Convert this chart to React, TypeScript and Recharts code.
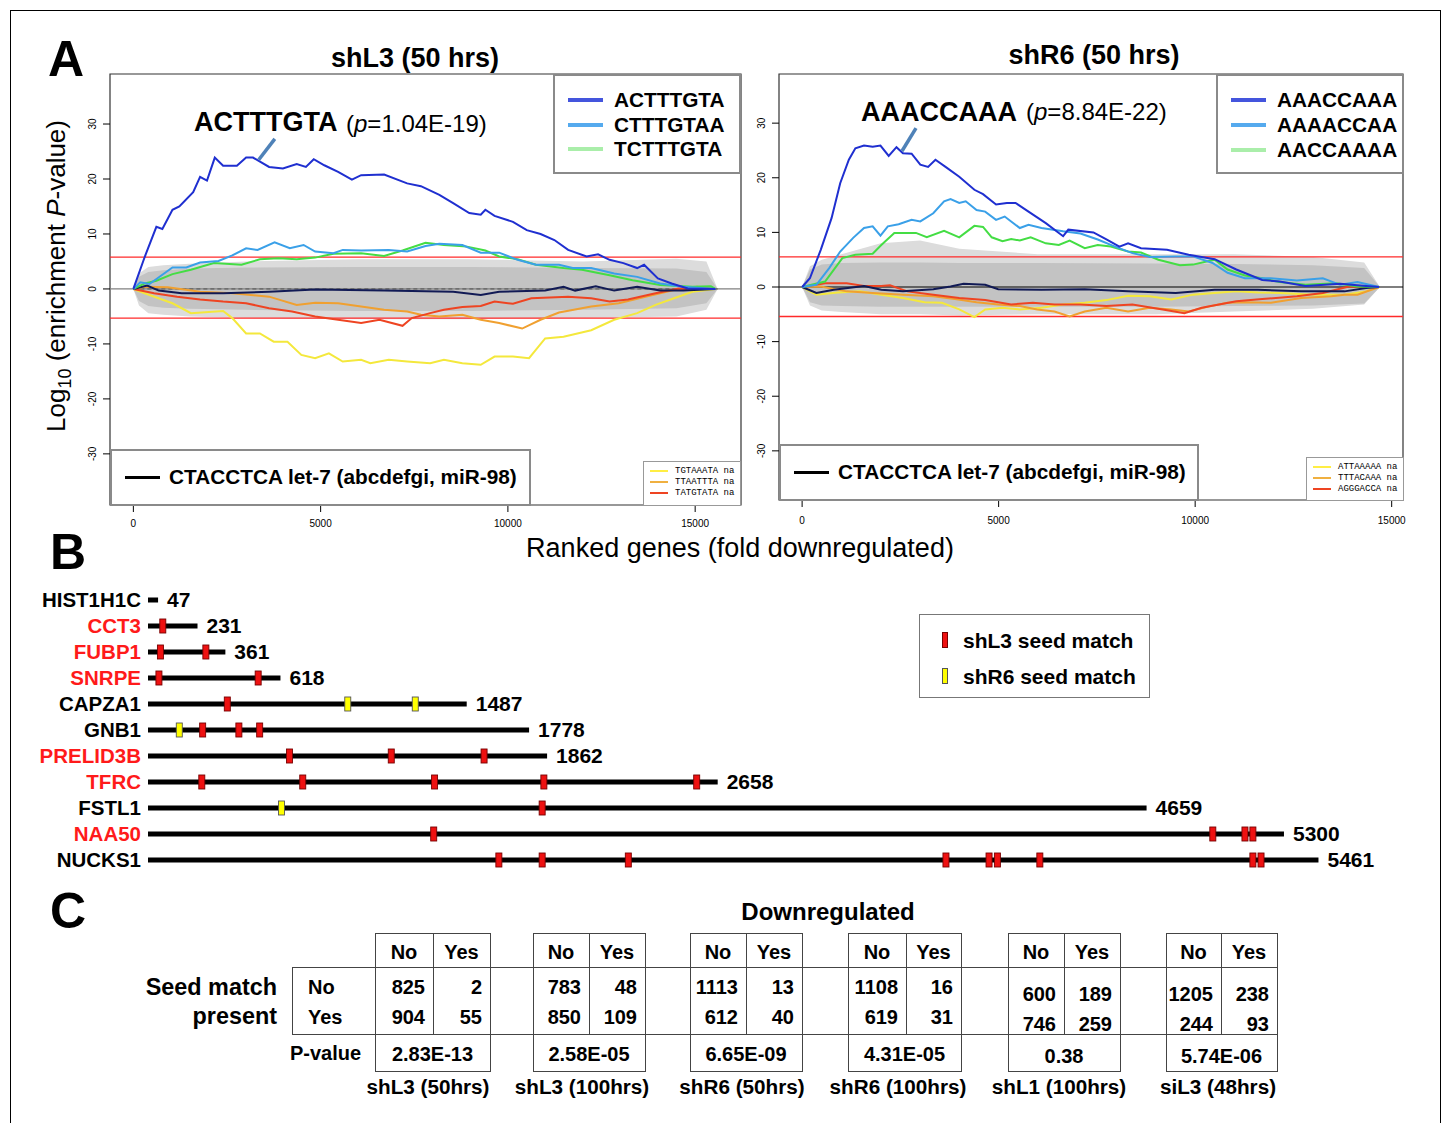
import React from 'react';
import {
  ComposedChart,
  Line,
  Area,
  XAxis,
  YAxis,
  ReferenceLine,
  ReferenceArea,
  ScatterChart,
  Scatter,
} from 'recharts';

const FONT = "'Liberation Sans', Arial, Helvetica, sans-serif";
const MONO = "'Liberation Mono', 'Courier New', monospace";

type P = [number, number];
const pts = (a: P[]) => a.map(([x, y]) => ({ x, y }));

// ---------- Panel A, shL3 (50 hrs) ----------
const shL3_ACTTTGTA: P[] = [[0,0],[307,5.9],[614,11.3],[774,10.9],[1044,14.4],[1228,15],[1597,17.6],[1781,20.4],[1966,19.7],[2174,23.9],[2396,22.4],[2764,22.4],[3010,23.9],[3194,23.9],[3624,22.2],[3993,21.9],[4361,22.7],[4607,22.2],[4816,23.6],[5098,22.5],[5467,21.3],[5835,19.9],[6081,20.7],[6695,20.8],[7310,19.2],[7678,18.7],[8170,17.1],[8538,15.6],[8968,13.8],[9275,13.5],[9398,14.4],[9644,13.3],[10135,12.2],[10504,10.7],[10872,10],[11241,8.9],[11609,7.1],[12101,5.9],[12408,6.3],[12715,5.3],[13084,4.7],[13452,3.8],[13636,4.4],[14005,1.9],[14373,1],[14803,0.1],[15540,0]];
const shL3_CTTTGTAA: P[] = [[0,0],[184,1.2],[430,0.9],[737,2.4],[1044,3.9],[1413,3.9],[1781,4.8],[2273,5.1],[2641,6.1],[3010,7.4],[3317,7.1],[3771,8.5],[4177,7.4],[4545,8],[4853,6.8],[5344,6.5],[5590,7.1],[6081,7],[6818,7.1],[7310,6.8],[7801,7.8],[8170,8.2],[8784,8],[9275,6.6],[9767,6.6],[10258,5.3],[10749,4.4],[11364,4.4],[11732,3.8],[12224,3.8],[12838,2.8],[13452,2.2],[14066,1],[14680,0.4],[15540,0]];
const shL3_TCTTTGTA: P[] = [[0,0],[307,1],[614,1.5],[1044,2.7],[1536,3.5],[2150,4.7],[2887,4.4],[3378,5.4],[3870,5.6],[4361,5.4],[4853,5.7],[5344,6.4],[6081,6.5],[6695,6],[7187,7],[7801,8.4],[8292,8],[8907,7.7],[9398,7],[9767,5.9],[10258,5.4],[10749,4.4],[11486,3.8],[11978,3.5],[12715,2.5],[13329,1.6],[14066,0.7],[14926,0.4],[15418,0.5],[15540,0]];
const shL3_TGTAAATA: P[] = [[0,0],[430,-1.1],[1044,-2.6],[1536,-4.4],[2396,-4],[2641,-5.3],[3010,-8.1],[3378,-8.1],[3747,-9.6],[4115,-9.6],[4484,-12],[4853,-12.6],[5221,-11.7],[5590,-13.2],[6081,-12.9],[6327,-13.5],[6818,-12.9],[7310,-13.2],[7924,-13.5],[8292,-12.9],[8784,-13.5],[9275,-13.8],[9644,-12.3],[10135,-12.3],[10565,-12.6],[10995,-9],[11486,-8.7],[12224,-7.5],[12838,-5.6],[13452,-4.4],[13943,-2.9],[14435,-1.7],[14926,-0.5],[15540,0]];
const shL3_TTAATTTA: P[] = [[0,0],[307,0.4],[921,0.3],[1781,-0.5],[2641,-0.8],[3624,-1.4],[4361,-2.9],[4853,-2.5],[5467,-2.6],[6081,-3.2],[6695,-3.8],[7310,-4.1],[7678,-4.7],[8170,-5],[8784,-4.7],[9275,-5.6],[9767,-6.2],[10381,-7.2],[10872,-5.6],[11364,-4.3],[12224,-3.2],[12961,-2.6],[13698,-1.4],[14435,-0.2],[15049,0.4],[15540,0]];
const shL3_TATGTATA: P[] = [[0,0],[553,-0.8],[1167,-1.4],[1781,-1.9],[2396,-2.3],[3010,-2.6],[3624,-3.5],[4238,-4.1],[4853,-5],[5467,-5.6],[6081,-6.2],[6572,-5.6],[7187,-6.7],[7433,-5.3],[7924,-4.4],[8292,-3.8],[8784,-3.3],[9275,-3.1],[9644,-2.3],[10135,-2.7],[10627,-1.7],[11609,-1.4],[12224,-1.7],[12715,-2.3],[13206,-1.9],[13943,-0.8],[14557,0.1],[15540,0]];
const shL3_let7: P[] = [[0,0],[369,0.6],[676,-0.3],[1290,-0.8],[2396,-0.8],[3624,-0.5],[4853,-0.1],[6695,-0.3],[8538,-0.5],[9275,-1.1],[9767,-0.5],[10995,-0.3],[11486,0.4],[11794,-0.3],[12347,0.5],[12838,-0.3],[13452,0.4],[14066,-0.3],[14680,-0.3],[15540,0]];
const shL3_bgX = [0, 150, 400, 800, 1500, 3000, 6000, 9000, 12000, 14500, 15300, 15600];
const shL3_bgInnerLo = [0, -2.2, -3.1, -3.4, -3.6, -3.8, -4, -4, -3.8, -3.5, -2.6, 0];
const shL3_bgInnerHi = [0, 2.2, 3.1, 3.4, 3.7, 3.9, 4, 4, 3.8, 3.7, 3.1, 0];
const shL3_bgOuterLo = [0, -3, -4.4, -4.7, -5, -5.3, -5.5, -5.5, -5.3, -5, -3.8, 0];
const shL3_bgOuterHi = [0, 2.8, 4, 4.3, 4.6, 5, 5.4, 5.4, 5, 5.5, 5, 0];

// ---------- Panel A, shR6 (50 hrs) ----------
const shR6_AAACCAAA: P[] = [[0,0],[198,1.6],[474,6.8],[749,12.6],[969,19],[1189,23.3],[1355,25.4],[1575,25.9],[1795,25.7],[1993,25.9],[2203,24],[2401,25.6],[2566,24.5],[2786,24.4],[3007,22.4],[3205,22],[3392,23.3],[3667,21.9],[3998,20.2],[4383,17.8],[4603,17],[4934,15.1],[5209,15.4],[5429,15.4],[5760,13.8],[6200,11.7],[6641,9.3],[6773,10.5],[7412,10],[7742,8.7],[8073,7.4],[8293,8],[8623,7.1],[9284,6.8],[9835,5.9],[10496,5.1],[11046,3.2],[11707,1.3],[12148,1],[12808,0.2],[13689,0.6],[14350,0.2],[14680,0]];
const shR6_AAAACCAA: P[] = [[0,0],[363,0.4],[694,3.5],[969,6.5],[1299,9],[1575,10.8],[1795,11.1],[1993,9.4],[2181,11.1],[2456,11.5],[2786,12.3],[3007,12],[3337,13.5],[3612,15.7],[3777,16.1],[3998,15.4],[4163,15.7],[4438,14.1],[4658,13.8],[4934,12.3],[5154,12.9],[5539,10.8],[5760,11.4],[6090,10.8],[6641,10.2],[7081,9.8],[7522,8.7],[7962,7.4],[8403,6.2],[8843,5.5],[9504,5.6],[9945,5.6],[10441,4.4],[10826,2.6],[11266,1.6],[11927,1.6],[12588,1.2],[13249,1.6],[13689,0.4],[14130,0.9],[14680,0]];
const shR6_AACCAAAA: P[] = [[0,0],[584,1],[1024,5.3],[1355,5.9],[1795,6.1],[2015,7.7],[2346,9.9],[2897,9.9],[3172,9.1],[3612,10.3],[3998,9.1],[4383,11.2],[4603,11],[4824,9.1],[5099,8.4],[5319,8.8],[5539,8.5],[5815,9.1],[6200,8],[6531,7.7],[6806,8.5],[7191,7.1],[7522,7.7],[7852,7.4],[8293,6.5],[8623,6.3],[9064,5],[9614,4],[9945,4.1],[10496,5],[10826,3.2],[11266,2.1],[11707,1.6],[12148,0.9],[12808,0.4],[13579,0.7],[14130,0.1],[14680,0]];
const shR6_ATTAAAAA: P[] = [[0,0],[363,-1.4],[914,-1],[1465,-0.8],[2015,-1.4],[2566,-2],[3117,-2.8],[3557,-2.9],[3998,-4.1],[4383,-5.5],[4658,-4.1],[5099,-3.8],[5539,-4.1],[6090,-3.8],[6641,-3.2],[7191,-2.9],[7742,-2.4],[8293,-1.6],[8843,-1.7],[9394,-2.3],[9945,-1.4],[10496,-1.1],[11046,-0.8],[11597,-1],[12148,-1.1],[13029,-1.4],[13800,-1.4],[14350,-0.8],[14680,0]];
const shR6_TTTACAAA: P[] = [[0,0],[474,0.1],[1134,-0.8],[1795,-1.1],[2566,-1.4],[3337,-1.7],[3888,-2.2],[4438,-2.8],[4989,-3.2],[5539,-3.5],[5980,-4.1],[6420,-4.5],[6806,-5.4],[7191,-4.5],[7742,-3.8],[8293,-4.5],[8843,-3.8],[9394,-4.1],[9835,-4.5],[10386,-3.5],[10826,-2.9],[11266,-2.8],[11927,-2.9],[12698,-2],[13469,-1.7],[13800,-1.4],[14130,-1.4],[14680,0]];
const shR6_AGGGACCA: P[] = [[0,0],[584,0.7],[1134,0.7],[1575,0.2],[2015,0.2],[2236,0.3],[2676,-0.8],[3337,-1.4],[3998,-2],[4658,-2.4],[5319,-3.2],[5870,-2.9],[6420,-3.2],[7081,-3.2],[7742,-3.5],[8403,-3.2],[9174,-4.1],[9725,-4.8],[10165,-3.8],[10606,-3.2],[11046,-2.6],[11707,-2.2],[12588,-1.7],[13249,-1.1],[13910,0.1],[14680,0]];
const shR6_let7: P[] = [[0,0],[363,-1.1],[804,-0.5],[1575,0.2],[2015,-0.5],[2566,-0.8],[3337,-0.4],[3777,0.1],[4108,0.6],[4658,0.4],[4989,-0.4],[6090,-0.5],[7191,-0.4],[8293,-0.8],[9504,-1.1],[10496,-0.5],[11597,-0.5],[12698,-0.8],[13800,-0.8],[14350,-0.2],[14680,0]];
const shR6_bgX = [0, 200, 500, 1000, 2000, 3000, 4000, 6000, 9000, 11000, 13000, 14300, 14700];
const shR6_bgInnerLo = [0, -2.8, -3.4, -3.5, -3.6, -3.6, -3.6, -3.6, -3.6, -3.5, -3.4, -3, 0];
const shR6_bgInnerHi = [0, 3.2, 4.1, 4.4, 4.5, 4.5, 4.4, 4.4, 4.3, 4.2, 4, 3.5, 0];
const shR6_bgOuterLo = [0, -3.4, -4.3, -4.6, -5, -5, -5.2, -5, -5, -4.5, -4, -3.2, 0];
const shR6_bgOuterHi = [0, 3.8, 5, 6, 8, 8.5, 7, 6, 6, 6, 5.5, 4.5, 0];

const bandData = (xs: number[], ilo: number[], ihi: number[], olo: number[], ohi: number[]) =>
  xs.map((x, i) => ({ x, inner: [ilo[i], ihi[i]], outer: [olo[i], ohi[i]] }));

const xTicks = [0, 5000, 10000, 15000];
const yTicks = [-30, -20, -10, 0, 10, 20, 30];

// ---------- Panel B ----------
const genes = ['HIST1H1C', 'CCT3', 'FUBP1', 'SNRPE', 'CAPZA1', 'GNB1', 'PRELID3B', 'TFRC', 'FSTL1', 'NAA50', 'NUCKS1'];
const geneLengths = [47, 231, 361, 618, 1487, 1778, 1862, 2658, 4659, 5300, 5461];
const geneIsRed = [false, true, true, true, false, false, true, true, false, true, false];
const shL3Sites: number[][] = [[], [69], [58, 270], [51, 514], [370], [255, 424, 521], [660, 1135, 1568], [251, 722, 1337, 1847, 2560], [1839], [1333, 4968, 5118, 5155], [1637, 1839, 2241, 3723, 3924, 3963, 4161, 5155, 5193]];
const shR6Sites: number[][] = [[], [], [], [], [932, 1247], [146], [], [], [623], [], []];

// ---------- Panel C ----------
const tableNames = ['shL3 (50hrs)', 'shL3 (100hrs)', 'shR6 (50hrs)', 'shR6 (100hrs)', 'shL1 (100hrs)', 'siL3 (48hrs)'];
const seedNoDownNo = [825, 783, 1113, 1108, 600, 1205];
const seedNoDownYes = [2, 48, 13, 16, 189, 238];
const seedYesDownNo = [904, 850, 612, 619, 746, 244];
const seedYesDownYes = [55, 109, 40, 31, 259, 93];
const pValues = ['2.83E-13', '2.58E-05', '6.65E-09', '4.31E-05', '0.38', '5.74E-06'];

// ---------- helpers ----------
type TxtProps = { x: number; y: number; size: number; bold?: boolean; color?: string; anchor?: 'start' | 'middle' | 'end'; family?: string; children: React.ReactNode; style?: React.CSSProperties };
const Txt = ({ x, y, size, bold, color = '#000', anchor = 'start', family = FONT, children, style }: TxtProps) => {
  const transform = anchor === 'middle' ? 'translateX(-50%)' : anchor === 'end' ? 'translateX(-100%)' : undefined;
  return (
    <div style={{ position: 'absolute', left: x, top: y - size / 2, fontSize: size, lineHeight: `${size}px`, fontWeight: bold ? 700 : 400, color, fontFamily: family, whiteSpace: 'nowrap', transform, ...style }}>
      {children}
    </div>
  );
};

const Box = ({ l, t, w, h, border = '2px solid #8a8a8a', children }: { l: number; t: number; w: number; h: number; border?: string; children?: React.ReactNode }) => (
  <div style={{ position: 'absolute', left: l, top: t, width: w, height: h, boxSizing: 'border-box', border, background: '#fff' }}>{children}</div>
);

const Seg = ({ l, t, w, h, c }: { l: number; t: number; w: number; h: number; c: string }) => (
  <div style={{ position: 'absolute', left: l, top: t, width: w, height: h, background: c }} />
);

const YTick = (props: any) => {
  const { x, y, payload } = props;
  const tx = x - 5;
  return (
    <text x={tx} y={y} transform={`rotate(-90 ${tx} ${y})`} textAnchor="middle" fontSize={10} fontFamily={FONT} fill="#000">
      {payload.value}
    </text>
  );
};

type Series = { data: P[]; color: string; width?: number };

type EnrichProps = {
  left: number; top: number; width: number; height: number;
  xDom: [number, number]; yDom: [number, number];
  band: any[]; series: Series[]; redHi: number; redLo: number;
  zeroColor: string; dashedEnd?: number; pointer: [P, P]; tickGap: number;
};

const Enrich = ({ left, top, width, height, xDom, yDom, band, series, redHi, redLo, zeroColor, dashedEnd, pointer, tickGap }: EnrichProps) => (
  <div style={{ position: 'absolute', left, top }}>
    <ComposedChart width={width} height={height} data={band} margin={{ top: 14, right: 19, left: 0, bottom: 0 }}>
      <XAxis dataKey="x" type="number" domain={xDom} ticks={xTicks} interval={0} allowDataOverflow height={30} tickSize={7} tickMargin={tickGap} axisLine={false} tickLine={{ stroke: '#000' }} tick={{ fontSize: 10, fill: '#000', fontFamily: FONT }} />
      <YAxis type="number" domain={yDom} ticks={yTicks} interval={0} allowDataOverflow width={50} tickSize={7} tickMargin={2} axisLine={false} tickLine={{ stroke: '#000' }} tick={<YTick />} />
      <Area dataKey="outer" type="linear" stroke="none" fill="#dcdcdc" fillOpacity={1} isAnimationActive={false} dot={false} activeDot={false} />
      <Area dataKey="inner" type="linear" stroke="none" fill="#c3c3c3" fillOpacity={1} isAnimationActive={false} dot={false} activeDot={false} />
      <ReferenceLine y={0} stroke={zeroColor} strokeWidth={1.2} />
      {dashedEnd ? (
        <Line data={pts([[0, 0], [dashedEnd, 0]])} dataKey="y" stroke="#555" strokeDasharray="4 3" strokeWidth={1} dot={false} isAnimationActive={false} />
      ) : null}
      <ReferenceLine y={redHi} stroke="#ff2a2a" strokeWidth={1.3} />
      <ReferenceLine y={redLo} stroke="#ff2a2a" strokeWidth={1.3} />
      {series.map((s, i) => (
        <Line key={i} data={pts(s.data)} dataKey="y" type="linear" stroke={s.color} strokeWidth={s.width ?? 2} dot={false} activeDot={false} isAnimationActive={false} />
      ))}
      <ReferenceLine segment={[{ x: pointer[0][0], y: pointer[0][1] }, { x: pointer[1][0], y: pointer[1][1] }]} stroke="#4f82b8" strokeWidth={3.5} />
      <ReferenceArea x1={xDom[0]} x2={xDom[1]} y1={yDom[0]} y2={yDom[1]} fill="none" stroke="#333" strokeWidth={1.2} ifOverflow="visible" />
    </ComposedChart>
  </div>
);

const LegendLine = ({ x, y, w, c, h = 4 }: { x: number; y: number; w: number; c: string; h?: number }) => (
  <div style={{ position: 'absolute', left: x, top: y - h / 2, width: w, height: h, background: c }} />
);

// Panel B marker shapes
const SiteShape = (color: string, stroke: string) => (props: any) => {
  const { cx, cy } = props;
  return <rect x={cx - 3} y={cy - 7} width={6} height={14} fill={color} stroke={stroke} strokeWidth={0.9} />;
};
const LenLabel = (props: any) => {
  const { cx, cy, payload } = props;
  return (
    <text x={cx + 9} y={cy + 7} fontSize={21} fontWeight={700} fontFamily={FONT} fill="#000">
      {payload.len}
    </text>
  );
};
const GeneTick = (props: any) => {
  const { y, payload } = props;
  const i = payload.value as number;
  return (
    <text x={141} y={y + 7} textAnchor="end" fontSize={20.5} fontWeight={700} fontFamily={FONT} fill={geneIsRed[i] ? '#ff1a1a' : '#000'}>
      {genes[i]}
    </text>
  );
};

const tblLeft = [375, 533, 690, 848, 1008, 1166];
const tblMid = [433, 589, 746, 906, 1064, 1221];
const tblRight = [490, 645, 802, 961, 1120, 1277];
const rowShift = [0, 0, 0, 0, 7, 7];
const nameCenter = [428, 582, 742, 898, 1059, 1218];

export default function App() {
  const band3 = bandData(shL3_bgX, shL3_bgInnerLo, shL3_bgInnerHi, shL3_bgOuterLo, shL3_bgOuterHi);
  const band6 = bandData(shR6_bgX, shR6_bgInnerLo, shR6_bgInnerHi, shR6_bgOuterLo, shR6_bgOuterHi);

  const series3: Series[] = [
    { data: shL3_TGTAAATA, color: '#f4e83c' },
    { data: shL3_TTAATTTA, color: '#f0a030' },
    { data: shL3_TATGTATA, color: '#ee4422' },
    { data: shL3_let7, color: '#111a55' },
    { data: shL3_TCTTTGTA, color: '#44dd44' },
    { data: shL3_CTTTGTAA, color: '#3aa0e8' },
    { data: shL3_ACTTTGTA, color: '#1f2fd0' },
  ];
  const series6: Series[] = [
    { data: shR6_ATTAAAAA, color: '#f4e83c' },
    { data: shR6_TTTACAAA, color: '#f0a030' },
    { data: shR6_AGGGACCA, color: '#ee4422' },
    { data: shR6_let7, color: '#111a55' },
    { data: shR6_AACCAAAA, color: '#44dd44' },
    { data: shR6_AAAACCAA, color: '#3aa0e8' },
    { data: shR6_AAACCAAA, color: '#1f2fd0' },
  ];

  const barsIdx = genes.map((_, i) => i);
  const l3Pts = shL3Sites.flatMap((arr, i) => arr.map((x) => ({ x, y: i })));
  const r6Pts = shR6Sites.flatMap((arr, i) => arr.map((x) => ({ x, y: i })));
  const endPts = geneLengths.map((len, i) => ({ x: len, y: i, len }));

  const lineC = '#444';

  return (
    <div style={{ position: 'absolute', left: 0, top: 0, width: 1447, height: 1123, overflow: 'hidden', background: '#fff', fontFamily: FONT }}>
      {/* figure frame */}
      <div style={{ position: 'absolute', left: 10, top: 10, width: 1431, height: 1140, boxSizing: 'border-box', border: '1.5px solid #000' }} />

      {/* ---------- Panel A ---------- */}
      <Txt x={48} y={59} size={50} bold>A</Txt>
      <Txt x={415} y={58} size={27} bold anchor="middle">shL3 (50 hrs)</Txt>
      <Txt x={1094} y={55} size={27} bold anchor="middle">shR6 (50 hrs)</Txt>

      <Enrich left={60} top={60} width={700} height={475} xDom={[-624, 16224]} yDom={[-39.3, 39.1]} band={band3} series={series3} redHi={5.8} redLo={-5.3} zeroColor="#808080" dashedEnd={15600} pointer={[[3777, 27.3], [3348, 23.5]]} tickGap={8} />
      <Enrich left={729} top={60} width={693} height={470} xDom={[-588, 15288]} yDom={[-39, 39]} band={band6} series={series6} redHi={5.5} redLo={-5.4} zeroColor="#000" pointer={[[2898, 29.1], [2542, 24.9]]} tickGap={10} />

      {/* y axis title */}
      <div style={{ position: 'absolute', left: 60, top: 276, transform: 'translate(-50%, -50%) rotate(-90deg)', fontSize: 26, lineHeight: '30px', whiteSpace: 'nowrap', fontFamily: FONT }}>
        Log<span style={{ fontSize: 18, verticalAlign: -6 }}>10</span> (enrichment <i>P</i>-value)
      </div>
      <Txt x={740} y={548} size={27} anchor="middle">Ranked genes (fold downregulated)</Txt>

      {/* annotations */}
      <Txt x={194} y={122} size={27} bold>ACTTTGTA</Txt>
      <Txt x={346} y={124} size={24}>(<i>p</i>=1.04E-19)</Txt>
      <Txt x={861} y={112} size={27} bold>AAACCAAA</Txt>
      <Txt x={1026} y={112} size={24}>(<i>p</i>=8.84E-22)</Txt>

      {/* legends left */}
      <Box l={553} t={74} w={188} h={100} />
      <LegendLine x={568} y={100} w={35} c="#4455dd" />
      <LegendLine x={568} y={125} w={35} c="#55aaee" />
      <LegendLine x={568} y={149} w={35} c="#aaeeaa" />
      <Txt x={614} y={100} size={20.8} bold>ACTTTGTA</Txt>
      <Txt x={614} y={125} size={20.8} bold>CTTTGTAA</Txt>
      <Txt x={614} y={149} size={20.8} bold>TCTTTGTA</Txt>

      <Box l={110} t={449} w={421} h={57} />
      <LegendLine x={125} y={477} w={35} c="#000" h={3} />
      <Txt x={169} y={477} size={20.8} bold>CTACCTCA let-7 (abcdefgi, miR-98)</Txt>

      <Box l={643} t={461} w={98} h={45} border="1px solid #999" />
      <LegendLine x={650} y={471} w={18} c="#ffee44" h={1.5} />
      <LegendLine x={650} y={482} w={18} c="#f0b040" h={1.5} />
      <LegendLine x={650} y={493} w={18} c="#ee4422" h={1.5} />
      <Txt x={675} y={471} size={9} family={MONO}>TGTAAATA na</Txt>
      <Txt x={675} y={482} size={9} family={MONO}>TTAATTTA na</Txt>
      <Txt x={675} y={493} size={9} family={MONO}>TATGTATA na</Txt>

      {/* legends right */}
      <Box l={1216} t={74} w={188} h={100} />
      <LegendLine x={1231} y={100} w={35} c="#4455dd" />
      <LegendLine x={1231} y={125} w={35} c="#55aaee" />
      <LegendLine x={1231} y={150} w={35} c="#aaeeaa" />
      <Txt x={1277} y={100} size={20.8} bold>AAACCAAA</Txt>
      <Txt x={1277} y={125} size={20.8} bold>AAAACCAA</Txt>
      <Txt x={1277} y={150} size={20.8} bold>AACCAAAA</Txt>

      <Box l={779} t={444} w={420} h={57} />
      <LegendLine x={794} y={472} w={35} c="#000" h={3} />
      <Txt x={838} y={472} size={20.8} bold>CTACCTCA let-7 (abcdefgi, miR-98)</Txt>

      <Box l={1306} t={457} w={98} h={44} border="1px solid #999" />
      <LegendLine x={1313} y={467} w={18} c="#ffee44" h={1.5} />
      <LegendLine x={1313} y={478} w={18} c="#f0b040" h={1.5} />
      <LegendLine x={1313} y={489} w={18} c="#ee4422" h={1.5} />
      <Txt x={1338} y={467} size={9} family={MONO}>ATTAAAAA na</Txt>
      <Txt x={1338} y={478} size={9} family={MONO}>TTTACAAA na</Txt>
      <Txt x={1338} y={489} size={9} family={MONO}>AGGGACCA na</Txt>

      {/* ---------- Panel B ---------- */}
      <Txt x={50} y={552} size={50} bold>B</Txt>
      <div style={{ position: 'absolute', left: 0, top: 580 }}>
        <ScatterChart width={1447} height={293} margin={{ top: 7, right: 13, left: 0, bottom: 0 }}>
          <XAxis type="number" dataKey="x" domain={[0, 6000]} allowDataOverflow hide />
          <YAxis type="number" dataKey="y" domain={[-0.5, 10.5]} reversed ticks={barsIdx} interval={0} width={148} axisLine={false} tickLine={false} tick={<GeneTick />} />
          {barsIdx.map((i) => (
            <ReferenceLine key={i} segment={[{ x: 0, y: i }, { x: geneLengths[i], y: i }]} stroke="#000" strokeWidth={5} />
          ))}
          <Scatter data={endPts} shape={LenLabel} isAnimationActive={false} />
          <Scatter data={l3Pts} shape={SiteShape('#ee1111', '#700')} isAnimationActive={false} />
          <Scatter data={r6Pts} shape={SiteShape('#ffff00', '#555')} isAnimationActive={false} />
        </ScatterChart>
      </div>
      <Box l={919} t={614} w={231} h={84} border="1.5px solid #777" />
      <div style={{ position: 'absolute', left: 942, top: 632, width: 6, height: 16, background: '#ee1111', border: '1px solid #700', boxSizing: 'border-box' }} />
      <div style={{ position: 'absolute', left: 942, top: 668, width: 6, height: 16, background: '#ffff00', border: '1px solid #555', boxSizing: 'border-box' }} />
      <Txt x={963} y={640} size={21} bold>shL3 seed match</Txt>
      <Txt x={963} y={676} size={21} bold>shR6 seed match</Txt>

      {/* ---------- Panel C ---------- */}
      <Txt x={50} y={911} size={50} bold>C</Txt>
      <Txt x={828} y={912} size={24} bold anchor="middle">Downregulated</Txt>
      <Txt x={277} y={988} size={23.4} bold anchor="end">Seed match</Txt>
      <Txt x={277} y={1017} size={23.4} bold anchor="end">present</Txt>
      <Txt x={308} y={987} size={20} bold>No</Txt>
      <Txt x={308} y={1017} size={20} bold>Yes</Txt>
      <Txt x={290} y={1053} size={20} bold>P-value</Txt>

      <Seg l={292} t={967} w={986} h={1.3} c={lineC} />
      <Seg l={292} t={1034} w={986} h={1.3} c={lineC} />
      <Seg l={292} t={967} w={1.3} h={68} c={lineC} />

      {tableNames.map((name, i) => {
        const l = tblLeft[i];
        const m = tblMid[i];
        const r = tblRight[i];
        const s = rowShift[i];
        return (
          <React.Fragment key={name}>
            <Seg l={l} t={933} w={r - l + 1} h={1.3} c={lineC} />
            <Seg l={l} t={933} w={1.3} h={102} c={lineC} />
            <Seg l={m} t={933} w={1.3} h={102} c={lineC} />
            <Seg l={r} t={933} w={1.3} h={139} c={lineC} />
            <Seg l={l} t={1035} w={1.3} h={37} c={lineC} />
            <Seg l={l} t={1071} w={r - l + 1} h={1.3} c={lineC} />
            <Txt x={(l + m) / 2} y={952} size={20} bold anchor="middle">No</Txt>
            <Txt x={(m + r) / 2} y={952} size={20} bold anchor="middle">Yes</Txt>
            <Txt x={m - 8} y={987 + s} size={20} bold anchor="end">{seedNoDownNo[i]}</Txt>
            <Txt x={r - 8} y={987 + s} size={20} bold anchor="end">{seedNoDownYes[i]}</Txt>
            <Txt x={m - 8} y={1017 + s} size={20} bold anchor="end">{seedYesDownNo[i]}</Txt>
            <Txt x={r - 8} y={1017 + s} size={20} bold anchor="end">{seedYesDownYes[i]}</Txt>
            <Txt x={(l + r) / 2} y={1054 + (s ? 2 : 0)} size={20} bold anchor="middle">{pValues[i]}</Txt>
            <Txt x={nameCenter[i]} y={1087} size={20.7} bold anchor="middle">{name}</Txt>
          </React.Fragment>
        );
      })}
    </div>
  );
}
